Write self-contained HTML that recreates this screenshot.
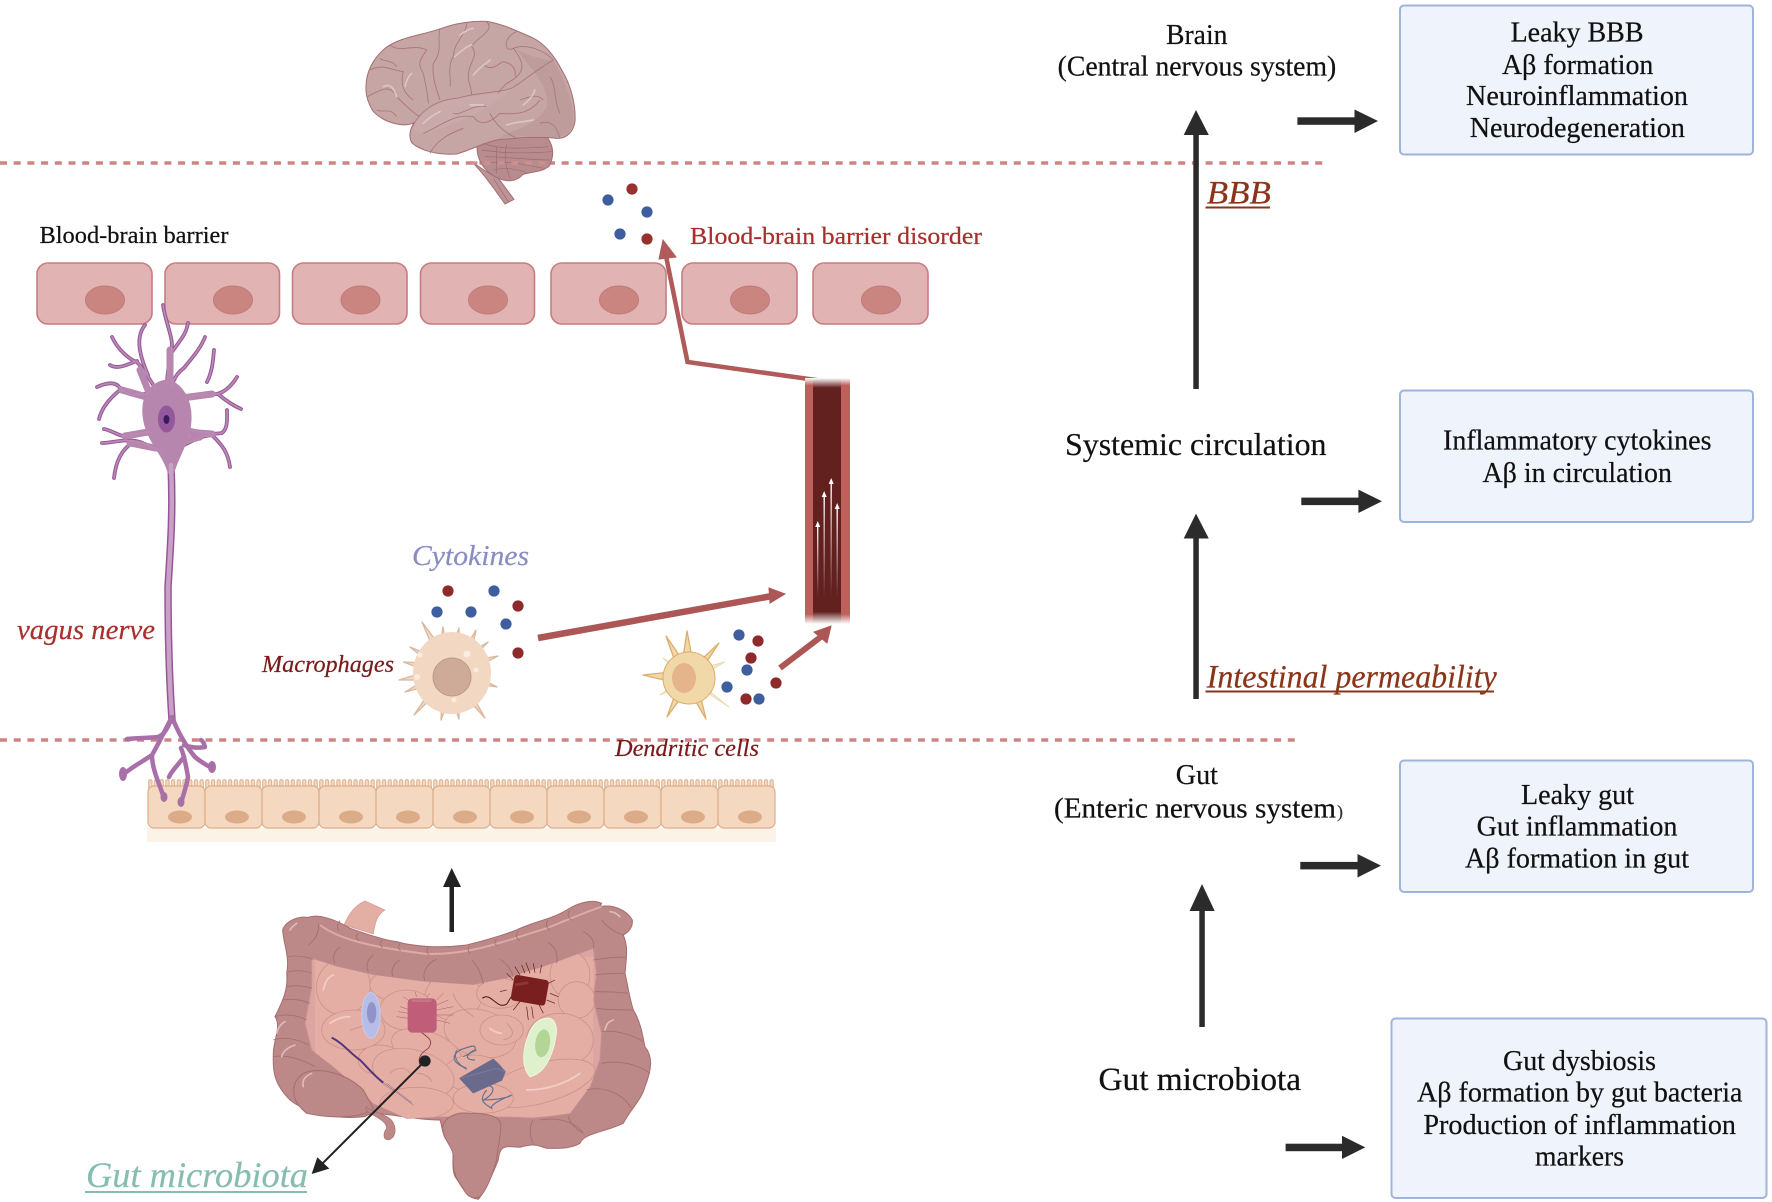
<!DOCTYPE html>
<html><head><meta charset="utf-8"><style>
html,body{margin:0;padding:0;background:#fff}
svg{display:block}
text{font-family:"Liberation Serif",serif;stroke:currentColor;stroke-width:.22px}
.bl{fill:#111;color:#111;font-size:28px}
.it{font-style:italic}
</style></head><body>
<svg width="1772" height="1202" viewBox="0 0 1772 1202" xmlns="http://www.w3.org/2000/svg">
<defs>
<linearGradient id="vg" x1="0" y1="0" x2="0" y2="1"><stop offset="0" stop-color="#fff"/><stop offset=".03" stop-color="#c0605c"/><stop offset=".96" stop-color="#c0605c"/><stop offset="1" stop-color="#fff"/></linearGradient>
<linearGradient id="vd" x1="0" y1="0" x2="0" y2="1"><stop offset="0" stop-color="#fff"/><stop offset=".04" stop-color="#62201e"/><stop offset=".95" stop-color="#62201e"/><stop offset="1" stop-color="#fff"/></linearGradient>
<linearGradient id="wa" x1="0" y1="0" x2="0" y2="1"><stop offset="0" stop-color="#fff"/><stop offset="1" stop-color="#fff" stop-opacity="0"/></linearGradient>
<pattern id="vil" x="148" y="779" width="5.7" height="12" patternUnits="userSpaceOnUse"><rect x=".7" y=".6" width="3.300" height="14" rx="1.650" fill="#f4d9c0" stroke="#dcae8c" stroke-width="1"/></pattern>
<clipPath id="inner"><path d="M215 295L290 320 400 345 550 365 700 375 800 355 940 310 1060 265 1070 340 1060 420 1085 520 1080 600 1050 680 990 760 880 775 780 770 620 770 500 775 400 730 350 680 280 620 215 570 195 490 215 380Z"/></clipPath>
</defs>

<!-- dashed lines -->
<line x1="0" y1="163" x2="1323" y2="163" stroke="#cf8383" stroke-width="3.500" stroke-dasharray="7 6.700"/>
<line x1="0" y1="740" x2="1300" y2="740" stroke="#cf8383" stroke-width="3.500" stroke-dasharray="7 6.700"/>

<!-- brain -->
<g transform="translate(340,0) scale(.3333)">
<path d="M395 485C430 510 455 525 475 535L522 598 495 612C465 570 435 525 395 485Z" fill="#bd9496" stroke="#a56d72" stroke-width="3"/>
<path d="M412 425C460 415 560 410 622 412 642 440 642 470 628 498 605 518 570 515 548 524 530 545 500 548 470 532 435 515 405 480 412 425Z" fill="#b78c8e" stroke="#a56d72" stroke-width="3"/>
<path d="M78 260C78 215 100 175 135 145 180 110 250 105 305 85 345 70 395 62 440 64 490 72 535 95 575 112 615 130 645 170 668 215 695 260 708 320 705 365 698 405 670 420 640 414 590 408 530 415 480 418 435 425 395 450 350 462 295 466 240 452 215 428 204 405 212 385 222 368 190 384 130 368 98 332 84 308 76 285 78 260Z" fill="#c6a5a5" stroke="#a56d72" stroke-width="3"/>
<path d="M530 150C570 165 600 180 640 180 680 250 705 320 700 370 690 405 660 415 640 412 590 405 530 410 480 412 520 390 600 370 620 320 630 260 570 200 530 150Z" fill="#bb9899" opacity=".7"/>
<path d="M215 385C240 340 280 310 340 295 400 285 470 285 520 262 480 300 420 340 340 370 280 395 240 410 215 385Z" fill="#cbacac" opacity=".6"/>
<g fill="none" stroke="#a8757a" stroke-width="2.500">
<path d="M215 385C240 330 290 300 350 295 420 275 480 280 520 262 560 235 590 210 640 180"/>
<path d="M300 85C290 130 310 150 280 190 275 230 290 270 300 300"/><path d="M380 70C380 100 340 130 340 170 320 200 335 240 330 260"/>
<path d="M440 66C470 90 400 120 395 140 420 170 380 190 385 240 395 270 395 280 395 285"/><path d="M530 95C490 110 490 160 520 145 555 190 560 220 500 250 480 270 475 280 475 280"/>
<path d="M150 135C180 160 220 130 260 150 240 180 230 190 250 220 260 270 265 290 265 310"/><path d="M90 210C130 190 150 210 190 215 180 250 190 280 220 300"/>
<path d="M82 290C120 270 150 250 170 290 190 310 220 340 240 350"/><path d="M110 330C130 340 150 320 170 350"/>
<path d="M250 400C300 380 340 340 400 350 420 380 450 370 480 340 530 345 570 340 600 300"/><path d="M270 460C290 420 330 400 370 385"/>
<path d="M450 340C470 380 500 400 530 415"/><path d="M600 370C630 360 650 375 660 415"/><path d="M630 230C650 260 640 300 660 340"/>
<path d="M520 145C560 130 610 150 640 180"/><path d="M430 195C460 215 475 190 490 185 510 190 530 200 525 230"/><path d="M120 175C140 190 150 175 170 200"/><path d="M340 340C360 350 400 310 440 320"/><path d="M540 300C570 290 590 280 610 300"/></g>
<g fill="none" stroke="#dcc5c5" stroke-width="5" stroke-linecap="round">
<path d="M250 370C270 350 290 340 300 335"/><path d="M345 170C370 145 390 135 395 135"/><path d="M400 225C420 200 440 190 450 180"/><path d="M390 315H430"/><path d="M500 375C530 365 560 365 580 360"/><path d="M550 315C570 300 580 285 585 270"/><path d="M360 105C380 90 395 85 400 85"/><path d="M195 260C200 235 210 225 215 220"/><path d="M130 260C150 250 160 260 170 290"/></g>
<g fill="none" stroke="#a06a6e" stroke-width="2"><path d="M430 430C480 450 560 445 625 440"/><path d="M425 450C490 460 570 460 635 455"/><path d="M435 470C490 470 570 480 630 480"/><path d="M440 490C500 480 560 495 610 505"/><path d="M460 510C500 500 540 510 560 518"/><path d="M470 440V520"/><path d="M500 435C490 470 500 510 510 535"/><path d="M460 535L505 605"/></g>
<g fill="#cf8f8f"><rect x="392" y="484" width="20" height="10"/><rect x="432" y="484" width="20" height="10"/><rect x="474" y="484" width="20" height="10"/><rect x="514" y="484" width="20" height="10"/><rect x="555" y="484" width="20" height="10"/><rect x="596" y="484" width="20" height="10"/></g>
</g>

<!-- BBB cells -->
<g fill="#e1b3b2" stroke="#c67c80" stroke-width="1.600">
<rect x="37" y="263" width="115" height="61" rx="11"/><rect x="165" y="263" width="114.500" height="61" rx="11"/><rect x="292.500" y="263" width="114.500" height="61" rx="11"/><rect x="420.500" y="263" width="114" height="61" rx="11"/><rect x="551" y="263" width="115" height="61" rx="11"/><rect x="682" y="263" width="115" height="61" rx="11"/><rect x="813" y="263" width="115" height="61" rx="11"/></g>
<g fill="#cb8581" stroke="#bf7a78" stroke-width="1">
<ellipse cx="105" cy="300" rx="19.500" ry="14"/><ellipse cx="233" cy="300" rx="19.500" ry="14"/><ellipse cx="360.500" cy="300" rx="19.500" ry="14"/><ellipse cx="488" cy="300" rx="19.500" ry="14"/><ellipse cx="619" cy="300" rx="19.500" ry="14"/><ellipse cx="750" cy="300" rx="19.500" ry="14"/><ellipse cx="881" cy="300" rx="19.500" ry="14"/></g>

<!-- BBB dots -->
<g fill="#983030"><circle cx="632" cy="189" r="5.600"/><circle cx="647" cy="239" r="5.600"/></g>
<g fill="#3f5ea0"><circle cx="608" cy="200" r="5.600"/><circle cx="647" cy="212" r="5.600"/><circle cx="620" cy="234" r="5.600"/></g>

<!-- red arrow from vessel -->
<path d="M823 381L687.500 362 666 256" fill="none" stroke="#b05a5a" stroke-width="4.500"/>
<path d="M663 240L676 257 659 259Z" fill="#b05a5a" stroke="#b05a5a" stroke-width="1"/>

<!-- vessel -->
<rect x="805" y="378" width="45" height="246" fill="url(#vg)"/>
<rect x="813" y="378" width="28" height="246" fill="url(#vd)"/>
<g fill="url(#wa)">
<rect x="817" y="525" width="1.400" height="72"/><rect x="823.500" y="495" width="1.400" height="102"/><rect x="830.500" y="482" width="1.400" height="115"/><rect x="836.500" y="507" width="1.400" height="90"/></g>
<g fill="#fff"><path d="M817.700 521l2.500 6h-5z"/><path d="M824.200 491l2.500 6h-5z"/><path d="M831.200 478l2.500 6h-5z"/><path d="M837.200 503l2.500 6h-5z"/></g>

<!-- neuron -->
<g fill="none" stroke-linecap="round" stroke-linejoin="round">
<g stroke="#96579a" stroke-width="3.800">
<path d="M163 305C165 320 172 335 172 345 170 360 167 370 167 385"/><path d="M188 323C186 335 180 340 172 352"/><path d="M145 325C137 335 137 350 148 375"/><path d="M112 337C118 350 130 360 137 362 146 372 150 380 155 388"/><path d="M110 365C118 370 128 364 137 361"/><path d="M205 337C200 350 190 360 184 368 178 372 174 378 172 386"/><path d="M214 350C213 362 212 372 207 382"/><path d="M237 377C232 385 225 392 217 394 205 395 192 394 182 400"/><path d="M241 409C232 405 225 400 218 394"/><path d="M97 387C108 382 116 382 120 388 126 394 135 398 150 392"/><path d="M99 419C102 407 110 398 120 390"/><path d="M104 429C110 430 118 435 123 436 132 436 142 432 150 432"/><path d="M102 443C112 443 125 438 140 442 150 446 155 448 162 452"/><path d="M114 478C116 460 122 450 132 443"/><path d="M227 410C227 420 228 428 222 433 212 435 202 432 190 430"/><path d="M230 467C228 452 222 445 212 435"/><path d="M184 445C194 440 202 436 212 435"/></g>
<path d="M171 465C173 510 171 540 168 587 168 640 170 690 172 720" stroke="#96579a" stroke-width="7.500"/>
<g stroke="#b786ae" stroke-width="7"><path d="M150 395L140 370"/><path d="M170 385L170 350"/><path d="M182 398L212 394"/><path d="M150 398L122 390"/><path d="M148 432L125 436"/><path d="M155 448L130 443"/><path d="M185 432L212 434"/><path d="M180 442L200 437"/></g>
<path d="M143 415C141 395 152 382 166 380 182 382 192 400 191 420 190 442 180 452 174 472 172 476 170 476 168 472 162 452 145 440 143 415Z" fill="#b786ae" stroke="#b786ae" stroke-width="1"/>
<g stroke="#ba8ab2" stroke-width="1.700">
<path d="M163 305C165 320 172 335 172 345 170 360 167 370 167 385"/><path d="M188 323C186 335 180 340 172 352"/><path d="M145 325C137 335 137 350 148 375"/><path d="M112 337C118 350 130 360 137 362 146 372 150 380 155 388"/><path d="M110 365C118 370 128 364 137 361"/><path d="M205 337C200 350 190 360 184 368 178 372 174 378 172 386"/><path d="M214 350C213 362 212 372 207 382"/><path d="M237 377C232 385 225 392 217 394 205 395 192 394 182 400"/><path d="M241 409C232 405 225 400 218 394"/><path d="M97 387C108 382 116 382 120 388 126 394 135 398 150 392"/><path d="M99 419C102 407 110 398 120 390"/><path d="M104 429C110 430 118 435 123 436 132 436 142 432 150 432"/><path d="M102 443C112 443 125 438 140 442 150 446 155 448 162 452"/><path d="M114 478C116 460 122 450 132 443"/><path d="M227 410C227 420 228 428 222 433 212 435 202 432 190 430"/><path d="M230 467C228 452 222 445 212 435"/><path d="M184 445C194 440 202 436 212 435"/></g>
<path d="M171 465C173 510 171 540 168 587 168 640 170 690 172 720" stroke="#c9a1c4" stroke-width="4.500"/>
</g>
<ellipse cx="166.500" cy="419" rx="8.600" ry="13.500" fill="#94589c"/><ellipse cx="166.500" cy="419.500" rx="3" ry="4.500" fill="#3a1a5a"/>

<!-- epithelium -->
<rect x="147" y="828" width="629" height="14" fill="#fbf2e8"/>
<rect x="148" y="779" width="627" height="12" fill="url(#vil)"/>
<g fill="#f4d9c0" stroke="#dcae8c" stroke-width="1.200">
<rect x="148" y="786" width="57" height="42" rx="6"/><rect x="205" y="786" width="57" height="42" rx="6"/><rect x="262" y="786" width="57" height="42" rx="6"/><rect x="319" y="786" width="57" height="42" rx="6"/><rect x="376" y="786" width="57" height="42" rx="6"/><rect x="433" y="786" width="57" height="42" rx="6"/><rect x="490" y="786" width="57" height="42" rx="6"/><rect x="547" y="786" width="57" height="42" rx="6"/><rect x="604" y="786" width="57" height="42" rx="6"/><rect x="661" y="786" width="57" height="42" rx="6"/><rect x="718" y="786" width="57" height="42" rx="6"/></g>
<rect x="149" y="784" width="625" height="5" fill="#f4d9c0" opacity="0"/>
<g fill="#dcab88"><ellipse cx="180" cy="817" rx="12" ry="6.500"/><ellipse cx="237" cy="817" rx="12" ry="6.500"/><ellipse cx="294" cy="817" rx="12" ry="6.500"/><ellipse cx="351" cy="817" rx="12" ry="6.500"/><ellipse cx="408" cy="817" rx="12" ry="6.500"/><ellipse cx="465" cy="817" rx="12" ry="6.500"/><ellipse cx="522" cy="817" rx="12" ry="6.500"/><ellipse cx="579" cy="817" rx="12" ry="6.500"/><ellipse cx="636" cy="817" rx="12" ry="6.500"/><ellipse cx="693" cy="817" rx="12" ry="6.500"/><ellipse cx="750" cy="817" rx="12" ry="6.500"/></g>
<!-- neuron terminal branches over epithelium -->
<g fill="none" stroke-linecap="round" stroke-linejoin="round" stroke="#a86fa8" stroke-width="4.500">
<path d="M172 717C165 730 158 745 152 755 142 762 130 768 123 775"/><path d="M127 739C137 738 150 738 158 737 163 735 167 730 170 722"/><path d="M152 755C152 770 160 785 164 798"/><path d="M172 717C178 732 185 745 195 757 202 763 208 766 212 768"/><path d="M184 745C192 748 200 748 205 747 204 743 203 741 201 740"/><path d="M181 748C184 755 186 765 188 777 186 788 183 796 181 803"/><path d="M184 757C178 765 172 770 169 777"/></g>
<g fill="#a86fa8"><ellipse cx="123" cy="774" rx="4" ry="7"/><ellipse cx="212" cy="767" rx="4" ry="6"/><ellipse cx="164" cy="797" rx="3.500" ry="5"/><ellipse cx="181" cy="802" rx="3.500" ry="5"/></g>

<!-- macrophage -->
<g fill="#f2d8c2" stroke="#d9b89c" stroke-width="1.300" stroke-linejoin="round">
<path d="M422 622L443 672H459Z"/><path d="M443 627L435 672H451Z"/><path d="M459 628L443 672H459Z"/><path d="M476 630L451 672H467Z"/><path d="M488 642L451 664V680Z"/><path d="M498 656L451 664V680Z"/><path d="M497 687L451 664V680Z"/><path d="M485 718L443 672H459Z"/><path d="M459 719L443 672H459Z"/><path d="M441 720L443 672H459Z"/><path d="M414 715L443 672H459Z"/><path d="M405 692L451 664V680Z"/><path d="M399 680L451 664V680Z"/><path d="M403.500 662L451 664V680Z"/><path d="M410 647L451 664V680Z"/>
</g>
<ellipse cx="452" cy="673" rx="39" ry="41" fill="#f2d8c2"/>
<ellipse cx="452" cy="677" rx="19" ry="19" fill="#cdab98" stroke="#bc9a86"/>
<g fill="#f9ebdf"><circle cx="467" cy="654" r="3.500"/><circle cx="420" cy="655" r="2.500"/><circle cx="417" cy="677" r="3"/><circle cx="476" cy="670" r="2.500"/><circle cx="454" cy="700" r="2.500"/></g>

<!-- dendritic cell -->
<g stroke-linejoin="round">
<g fill="#f6e8cf" stroke="#ecd8b4" stroke-width="1"><path d="M729 707L685 678H693Z"/><path d="M660 695L689 672V684Z"/><path d="M724.500 662L689 672V684Z"/><path d="M663 658L683 678H695Z"/></g>
<g fill="#f0d8a8" stroke="#dcae6c" stroke-width="1.300"><path d="M666 636L681 678H695Z"/><path d="M687 631L680 678H696Z"/><path d="M719 643L682 678H696Z"/><path d="M643 675L689 670V686Z"/><path d="M667 717L681 678H695Z"/><path d="M706 719L682 678H696Z"/></g>
</g>
<ellipse cx="689" cy="678" rx="26" ry="26" fill="#f0d8a8" stroke="#dcae6c"/>
<ellipse cx="684" cy="678" rx="12" ry="15" fill="#e6b48a"/>

<!-- cytokine dots -->
<g fill="#8e2a2c"><circle cx="448" cy="591" r="5.600"/><circle cx="518" cy="606" r="5.600"/><circle cx="518" cy="653" r="5.600"/><circle cx="758" cy="641" r="5.600"/><circle cx="751" cy="658" r="5.600"/><circle cx="776" cy="683" r="5.600"/><circle cx="746" cy="699" r="5.600"/></g>
<g fill="#3f5ea0"><circle cx="494" cy="591" r="5.600"/><circle cx="437" cy="612" r="5.600"/><circle cx="471" cy="612" r="5.600"/><circle cx="506" cy="624" r="5.600"/><circle cx="739" cy="635" r="5.600"/><circle cx="747" cy="670" r="5.600"/><circle cx="727" cy="687" r="5.600"/><circle cx="759" cy="699" r="5.600"/></g>

<!-- red arrows -->
<path d="M538 638L772 596" stroke="#ac5656" stroke-width="6.500"/>
<path d="M785 594L770 603 769 588Z" fill="#ac5656" stroke="#ac5656"/>
<path d="M780 668L822 636" stroke="#ac5656" stroke-width="6"/>
<path d="M831 626L827 643 814 632Z" fill="#ac5656" stroke="#ac5656"/>

<!-- up arrow -->
<rect x="449.500" y="885" width="4.500" height="47" fill="#222"/><path d="M451.700 868L461 887H443Z" fill="#222"/>

<!-- intestine -->
<g transform="translate(240,860) scale(.3333)">
<path d="M312 195C325 165 345 135 375 123L435 150C410 165 405 190 400 222Z" fill="#e3aea3" stroke="#d39a90" stroke-width="2"/>
<path d="M128 210C135 185 170 168 205 172 235 160 290 180 330 205 380 222 430 240 470 245 520 260 600 265 680 255 740 240 790 225 830 210 880 185 930 180 980 150 1020 125 1060 118 1085 130L1080 140C1120 132 1160 150 1177 180 1180 205 1160 220 1150 225 1165 260 1160 290 1155 340 1165 380 1165 400 1180 450 1205 490 1210 540 1215 560 1240 590 1235 630 1215 680 1205 720 1170 750 1150 790 1100 815 1030 820 1020 850 990 868 950 865 920 865 890 855 880 850 840 862 800 860 780 850 775 900 755 950 735 995 715 1018 680 1015 670 985 645 950 635 925 640 890 640 860 605 840 608 800 600 780 500 780 400 745 375 770 290 780 200 760 150 720 100 670 98 630 100 580 100 540 125 500 105 470 130 420 145 385 140 340 150 290 130 250 128 210Z" fill="#bd8888" stroke="#a66d6d" stroke-width="3"/>
<path d="M215 295L290 320 400 345 550 365 700 375 800 355 940 310 1060 265 1070 340 1060 420 1085 520 1080 600 1050 680 990 760 880 775 780 770 620 770 500 775 400 730 350 680 280 620 215 570 195 490 215 380Z" fill="#dba5a2" stroke="#c99090" stroke-width="3"/>
<g clip-path="url(#inner)">
<g transform="translate(0,0)">
<rect x="225" y="290" width="835" height="480" fill="#e5aea4"/>
<g fill="#e5aea4" stroke="#cb9288" stroke-width="2.500">
<ellipse cx="310" cy="380" rx="80" ry="85" transform="rotate(20 310 380)"/>
<ellipse cx="480" cy="375" rx="90" ry="50"/>
<ellipse cx="640" cy="410" rx="85" ry="70"/>
<ellipse cx="780" cy="400" rx="70" ry="45"/>
<ellipse cx="990" cy="345" rx="60" ry="70"/>
<ellipse cx="1010" cy="420" rx="55" ry="55"/>
<ellipse cx="340" cy="510" rx="95" ry="60"/>
<ellipse cx="500" cy="450" rx="80" ry="60"/>
<ellipse cx="720" cy="520" rx="110" ry="70" transform="rotate(15 720 520)"/>
<ellipse cx="785" cy="510" rx="65" ry="45"/>
<ellipse cx="960" cy="540" rx="100" ry="80"/>
<ellipse cx="560" cy="570" rx="110" ry="55" transform="rotate(20 560 570)"/>
<ellipse cx="420" cy="600" rx="65" ry="45"/>
<ellipse cx="700" cy="640" rx="90" ry="55"/>
<ellipse cx="900" cy="670" rx="170" ry="60" transform="rotate(-15 900 670)"/>
<ellipse cx="520" cy="640" rx="125" ry="70" transform="rotate(15 520 640)"/>
<ellipse cx="530" cy="730" rx="110" ry="48"/>
<ellipse cx="730" cy="715" rx="90" ry="45"/></g>
<g fill="none" stroke="#cb9288" stroke-width="3"><path d="M330 510C350 505 365 500 375 495"/><path d="M640 400C650 440 690 460 700 470"/><path d="M800 490C820 510 830 530 790 540"/><path d="M530 640C550 640 570 650 575 665"/><path d="M450 640C470 620 500 620 510 640"/></g>
<g fill="none" stroke="#f0cfc8" stroke-width="5" stroke-linecap="round"><path d="M250 390C255 365 265 350 280 345"/><path d="M270 490C290 475 310 470 330 470"/><path d="M860 690C920 690 980 670 1020 640"/><path d="M750 505C760 515 780 520 785 520"/></g>
</g></g>
<!-- colon segments -->
<path d="M240 195C300 240 400 262 560 282 700 285 800 240 920 205 980 180 1040 155 1085 140" fill="none" stroke="#dfa9a8" stroke-width="6"/>
<g fill="none" stroke="#a66d6d" stroke-width="2.500">
<path d="M300 182C290 195 290 205 298 212"/><path d="M355 220C345 228 350 238 358 242"/><path d="M425 240C418 250 420 258 428 262"/><path d="M480 252C472 262 475 268 482 272"/><path d="M565 262C558 272 560 280 568 284"/><path d="M690 258C680 268 685 276 692 280"/><path d="M770 238C760 248 765 256 775 258"/><path d="M835 215C825 225 830 238 840 242"/><path d="M925 180C915 190 920 205 930 210"/><path d="M990 152C980 162 985 175 995 180"/>
<path d="M205 255C225 240 240 215 235 190"/><path d="M285 310C275 290 285 270 300 262"/><path d="M385 335C375 315 385 295 400 285"/><path d="M460 350C450 335 460 310 480 300"/><path d="M555 362C545 340 560 310 590 298"/><path d="M730 372C725 345 715 320 695 300"/><path d="M820 352C815 330 800 310 780 298"/><path d="M950 310C955 280 945 260 925 248"/><path d="M1060 265C1065 240 1050 225 1030 215"/><path d="M1150 225C1120 215 1100 200 1085 180"/>
<path d="M145 290C170 285 200 290 218 298"/><path d="M145 335C170 330 200 332 215 340"/><path d="M140 380C165 375 195 378 215 385"/><path d="M128 420C155 415 190 420 210 430"/><path d="M105 470C135 460 170 465 200 480"/><path d="M100 540C130 530 170 535 205 555"/><path d="M100 590C130 585 170 590 225 620"/>
<path d="M1060 300C1090 295 1130 290 1158 292"/><path d="M1065 345C1095 340 1125 340 1155 340"/><path d="M1065 395C1095 395 1130 395 1165 400"/><path d="M1070 445C1100 450 1140 450 1180 450"/><path d="M1085 515C1120 510 1170 520 1210 545"/><path d="M1085 610C1130 600 1190 610 1230 640"/><path d="M1040 690C1080 680 1140 690 1175 745"/><path d="M985 770C990 790 1010 810 1030 820"/><path d="M880 780C865 800 870 835 880 850"/><path d="M1030 820C1010 790 960 770 900 780"/></g>
<path d="M400 745C375 770 290 780 200 760 150 720 150 670 190 640 240 620 320 640 370 690Z" fill="#bd8888" stroke="#a66d6d" stroke-width="3"/>
<path d="M608 800C615 770 650 755 690 760 730 760 775 765 782 790 785 830 770 870 770 900 755 950 740 990 720 1010 700 1020 680 1010 670 985 650 960 635 930 640 890 640 860 608 840 608 800Z" fill="#bd8888" stroke="#a66d6d" stroke-width="3"/>
<path d="M378 740C400 760 440 760 458 785 472 810 465 835 445 840 425 838 432 815 440 805 440 780 400 770 378 750Z" fill="#bd8888" stroke="#a66d6d" stroke-width="2"/>
<g fill="none" stroke="#ddbcbc" stroke-width="5" stroke-linecap="round"><path d="M190 680C185 660 195 650 215 640"/><path d="M125 590C130 570 150 560 165 555"/><path d="M110 520C115 500 125 490 135 485"/><path d="M1095 510C1100 490 1105 485 1120 480"/><path d="M150 210C155 200 165 195 170 190"/><path d="M1140 170C1130 160 1120 155 1110 155"/></g>

<path d="M275 533C310 550 330 580 360 600 385 625 405 650 430 668" fill="none" stroke="#54347a" stroke-width="6"/>
<path d="M430 668L520 735M440 670L515 728" fill="none" stroke="#6a5a80" stroke-width="1.500"/>
<ellipse cx="393" cy="466" rx="28" ry="68" fill="#b7bde6" stroke="#c5cbef" stroke-width="3"/><ellipse cx="395" cy="458" rx="14" ry="32" fill="#8f93c8"/>
<path d="M480 440L510 450M470 470L505 475M490 410L520 430M590 420L610 400M590 450L640 440M590 480L630 490M530 410L525 395M560 410L570 400M475 455L505 460M590 435L625 420M590 465L640 465" stroke="#a55a68" stroke-width="1.500"/>
<path d="M545 518C570 535 580 545 565 565 550 575 530 590 540 615" fill="none" stroke="#8a2e48" stroke-width="2.500"/>
<rect x="503" y="415" width="87" height="103" rx="14" fill="#c05d78"/><rect x="515" y="418" width="60" height="8" fill="#cf7c90" opacity=".7"/>
<g stroke="#601818" stroke-width="2"><path d="M820 360L800 340M840 345L825 320M855 340L845 315M870 340L858 308M885 338L880 310M900 340L905 315M925 370L945 360M930 400L955 410M920 420L945 430M895 430L910 460M875 440L880 475M860 440L865 480M840 425L820 450M800 390L780 395"/></g>
<path d="M820 405C800 420 810 440 780 435 760 425 745 400 727 415" fill="none" stroke="#4e1416" stroke-width="3"/>
<rect x="817" y="352" width="105" height="78" rx="10" transform="rotate(10 870 391)" fill="#7a1f20"/><path d="M825 375L865 368" stroke="#a04545" stroke-width="8" opacity=".6"/>
<path d="M900 480C925 470 945 470 950 510 945 570 920 640 870 650 850 630 845 590 860 540 870 510 880 490 900 480Z" fill="#dff0cc" stroke="#eef7e4" stroke-width="3"/>
<ellipse cx="908" cy="550" rx="22" ry="42" transform="rotate(8 908 550)" fill="#b3d596"/>
<path d="M680 625C640 610 630 590 660 570 690 560 710 550 705 570 680 580 670 600 705 600" fill="none" stroke="#5f7290" stroke-width="3.500"/>
<path d="M650 570C640 590 650 610 680 628M670 590L710 570" fill="none" stroke="#5f7290" stroke-width="3"/>
<path d="M660 655L760 598 795 635 785 660 700 698Z" fill="#6a6a8c" stroke="#6a6a8c" stroke-width="4" stroke-linejoin="round"/>
<path d="M660 655L770 625 795 635" fill="none" stroke="#82829f" stroke-width="2"/>
<path d="M735 680C765 670 770 700 730 720 780 720 810 710 815 705 780 720 750 735 755 745 730 730 715 720 740 690" fill="none" stroke="#5f7290" stroke-width="3.500"/>
<line x1="555" y1="603" x2="230" y2="928" stroke="#222" stroke-width="6"/>
<path d="M215 942L268 926 232 892Z" fill="#222"/>
<circle cx="555" cy="603" r="17" fill="#222"/>
</g>

<!-- left labels -->
<text x="39.500" y="243" font-size="24" style="fill:#111;color:#111" textLength="189" lengthAdjust="spacingAndGlyphs">Blood-brain barrier</text>
<text x="690" y="244" font-size="24.500" style="fill:#a8302c;color:#a8302c" textLength="292" lengthAdjust="spacingAndGlyphs">Blood-brain barrier disorder</text>
<text x="412" y="565" font-size="29" class="it" style="fill:#8b8cc4;color:#8b8cc4" textLength="117" lengthAdjust="spacingAndGlyphs">Cytokines</text>
<text x="17" y="639" font-size="28.500" class="it" style="fill:#a8302c;color:#a8302c" textLength="138" lengthAdjust="spacingAndGlyphs">vagus nerve</text>
<text x="262" y="672" font-size="24" class="it" style="fill:#7a1a1a;color:#7a1a1a" textLength="132" lengthAdjust="spacingAndGlyphs">Macrophages</text>
<text x="615" y="756" font-size="24" class="it" style="fill:#7a1a1a;color:#7a1a1a" textLength="144" lengthAdjust="spacingAndGlyphs">Dendritic cells</text>
<text x="86" y="1187" font-size="36" class="it" style="fill:#85bdb0;color:#85bdb0" textLength="222" lengthAdjust="spacingAndGlyphs">Gut microbiota</text>
<line x1="85" y1="1192" x2="307" y2="1192" stroke="#85bdb0" stroke-width="2"/>

<!-- right arrows -->
<g fill="#2b2b2b">
<rect x="1193.300" y="130" width="5.500" height="259"/><path d="M1196 110L1208.800 135H1183.700Z"/>
<rect x="1193.300" y="535" width="5.500" height="164"/><path d="M1196 513.600L1208.800 538.500H1183.700Z"/>
<rect x="1199.300" y="905" width="5.500" height="122"/><path d="M1202 884L1214.700 911H1189.600Z"/>
<rect x="1297.400" y="117.300" width="60" height="7.500"/><path d="M1378 121L1354.500 109.500V133Z"/>
<rect x="1301.300" y="497.600" width="60" height="7.500"/><path d="M1382 501.300L1358.400 489.600V513Z"/>
<rect x="1300.300" y="861.900" width="60" height="7.500"/><path d="M1381 865.600L1357.500 854V877.500Z"/>
<rect x="1285.600" y="1143.700" width="60" height="7.500"/><path d="M1365.300 1147.400L1342 1135.800V1159Z"/>
</g>

<!-- boxes -->
<g fill="#eff3fb" stroke="#a0b3dc" stroke-width="2">
<rect x="1400" y="5.500" width="353" height="149" rx="4"/>
<rect x="1400" y="390.500" width="353" height="131.500" rx="4"/>
<rect x="1400" y="760.500" width="353" height="131.500" rx="4"/>
<rect x="1391.500" y="1018.500" width="375" height="179.500" rx="4"/>
</g>

<!-- right labels -->
<text x="1166" y="44" class="bl" textLength="61.500" lengthAdjust="spacingAndGlyphs">Brain</text>
<text x="1057.600" y="75.400" class="bl" textLength="278.700" lengthAdjust="spacingAndGlyphs">(Central nervous system)</text>
<text x="1065" y="455" class="bl" style="font-size:32px" textLength="261.500" lengthAdjust="spacingAndGlyphs">Systemic circulation</text>
<text x="1206.800" y="203.600" font-size="33" class="it" style="fill:#8a3418;color:#8a3418" textLength="64" lengthAdjust="spacingAndGlyphs">BBB</text>
<line x1="1205.500" y1="207.500" x2="1270" y2="207.500" stroke="#8a3418" stroke-width="2"/>
<text x="1206.800" y="687.500" font-size="33" class="it" style="fill:#8a3418;color:#8a3418" textLength="290" lengthAdjust="spacingAndGlyphs">Intestinal permeability</text>
<line x1="1205.500" y1="691.500" x2="1494" y2="691.500" stroke="#8a3418" stroke-width="2"/>
<text x="1175.800" y="784" class="bl" textLength="42.200" lengthAdjust="spacingAndGlyphs">Gut</text>
<text x="1054" y="817.700" class="bl" textLength="282" lengthAdjust="spacingAndGlyphs">(Enteric nervous system</text>
<text x="1337" y="817.700" font-size="18" style="fill:#333;color:#333">)</text>
<text x="1098.500" y="1090" class="bl" style="font-size:33px" textLength="202.500" lengthAdjust="spacingAndGlyphs">Gut microbiota</text>

<text x="1510.600" y="41.300" class="bl" textLength="132.900" lengthAdjust="spacingAndGlyphs">Leaky BBB</text>
<text x="1502" y="74" class="bl" textLength="151.400" lengthAdjust="spacingAndGlyphs">Aβ formation</text>
<text x="1466" y="105.200" class="bl" textLength="222" lengthAdjust="spacingAndGlyphs">Neuroinflammation</text>
<text x="1469.700" y="137" class="bl" textLength="215.300" lengthAdjust="spacingAndGlyphs">Neurodegeneration</text>
<text x="1443" y="449.700" class="bl" textLength="268.500" lengthAdjust="spacingAndGlyphs">Inflammatory cytokines</text>
<text x="1482.500" y="482" class="bl" textLength="189.500" lengthAdjust="spacingAndGlyphs">Aβ in circulation</text>
<text x="1521" y="804" class="bl" textLength="113" lengthAdjust="spacingAndGlyphs">Leaky gut</text>
<text x="1476.600" y="835.700" class="bl" textLength="200.900" lengthAdjust="spacingAndGlyphs">Gut inflammation</text>
<text x="1465" y="867.600" class="bl" textLength="224" lengthAdjust="spacingAndGlyphs">Aβ formation in gut</text>
<text x="1503" y="1070" class="bl" textLength="153" lengthAdjust="spacingAndGlyphs">Gut dysbiosis</text>
<text x="1417" y="1101.700" class="bl" textLength="325.500" lengthAdjust="spacingAndGlyphs">Aβ formation by gut bacteria</text>
<text x="1423.400" y="1134" class="bl" textLength="312.600" lengthAdjust="spacingAndGlyphs">Production of inflammation</text>
<text x="1535" y="1165.500" class="bl" textLength="89" lengthAdjust="spacingAndGlyphs">markers</text>
</svg>
</body></html>
